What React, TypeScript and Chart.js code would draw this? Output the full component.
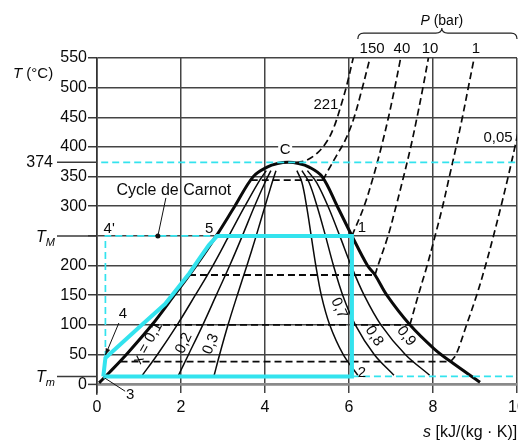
import { useEffect, useRef } from "react";
import { Chart, registerables } from "chart.js";

Chart.register(...registerables);

const FF = "'Liberation Sans', Arial, Helvetica, sans-serif";

// ---------- axes ----------
const sTicks = [0, 2, 4, 6, 8, 10];
const tTicks = [0, 13, 50, 100, 150, 200, 250, 300, 350, 374, 400, 450, 500, 550];
const T_m = 13;
const T_M = 250;
const T_C = 374;

// ---------- saturation dome (s, T) ----------
const domeS = [0.05, 0.3, 0.7, 1.31, 1.84, 2.36, 2.84, 3.28, 3.72, 4.05, 4.3, 4.55, 4.8, 5.05, 5.36, 5.72, 6.07, 6.44, 6.62, 6.9, 7.45, 8.02, 8.42, 9.12];
const domeT = [2, 20, 50, 100, 150, 200, 250, 300, 350, 366, 372, 374, 372, 366, 350, 300, 250, 200, 184, 150, 100, 60, 38, 3];

// ---------- quality lines ----------
const qualT = [15, 50, 100, 150, 200, 250, 300, 340, 360];
const x01S = [1.08, 1.44, 1.91, 2.34, 2.76, 3.14, 3.52, 3.84, 4.03];
const x02S = [1.94, 2.18, 2.52, 2.84, 3.16, 3.46, 3.75, 4.0, 4.14];
const x03S = [2.79, 2.92, 3.12, 3.34, 3.57, 3.79, 4.0, 4.17, 4.26];
const x07S = [6.21, 5.86, 5.54, 5.34, 5.21, 5.1, 4.99, 4.88, 4.76];
const x08S = [7.07, 6.6, 6.15, 5.85, 5.63, 5.44, 5.24, 5.05, 4.88];
const x09S = [7.92, 7.34, 6.76, 6.36, 6.05, 5.78, 5.5, 5.23, 5.01];

// ---------- isobars inside the dome: [T, s liquid, s vapour] ----------
const wetT = [344, 250, 184, 100, 38];
const wetSf = [3.66, 2.84, 2.19, 1.31, 0.56];
const wetSg = [5.38, 6.07, 6.62, 7.45, 8.42];

// ---------- superheated isobars ----------
const p221S = [4.75, 5.0, 5.25, 5.48, 5.65, 5.81, 5.95, 6.1];
const p221T = [373.5, 378, 390, 410, 435, 470, 505, 550];
const p150S = [5.38, 5.5, 5.7, 5.9, 6.1, 6.3, 6.5];
const p150T = [344, 360, 385, 410, 445, 495, 550];
const p40S = [6.07, 6.36, 6.58, 6.77, 6.94, 7.09, 7.23];
const p40T = [250, 300, 350, 400, 450, 500, 550];
const p10S = [6.62, 6.69, 6.93, 7.12, 7.3, 7.47, 7.62, 7.76, 7.89];
const p10T = [184, 200, 250, 300, 350, 400, 450, 500, 550];
const p1S = [7.45, 7.65, 7.86, 8.05, 8.23, 8.39, 8.55, 8.7, 8.84, 8.98];
const p1T = [100, 150, 200, 250, 300, 350, 400, 450, 500, 550];
const p005S = [8.42, 8.55, 8.8, 9.04, 9.25, 9.44, 9.62, 9.79, 9.95, 10.1];
const p005T = [38, 50, 100, 150, 200, 250, 300, 350, 400, 450];

// ---------- Carnot cycle (cyan) ----------
const cycleS = [0.15, 0.2, 1.07, 1.62, 1.9, 2.2, 2.47, 2.66, 2.86, 6.07, 6.07, 0.15];
const cycleT = [13, 44, 100, 135, 160, 187, 215, 234, 250, 250, 13, 13];
const carnotDashS = [0.2, 0.2, 2.86];
const carnotDashT = [44, 250, 250];
const critS = [0.1, 10];
const TmExtS = [6.07, 10];

const CYAN = "#33e3ee";
const BLACK = "#0a0a0a";

const pts = (s: number[], t: number[]) => s.map((v, i) => ({ x: v, y: t[i] }));

function line(data: { x: number; y: number }[], color: string, width: number, dash: number[] = [], tension = 0, order = 3) {
  return {
    data,
    showLine: true,
    pointRadius: 0,
    borderColor: color,
    backgroundColor: color,
    borderWidth: width,
    borderDash: dash,
    tension,
    fill: false,
    order,
  };
}

function f(size: number, italic = false) {
  return `${italic ? "italic " : ""}${size}px ${FF}`;
}

function txt(ctx: CanvasRenderingContext2D, s: string, x: number, y: number, size = 15, align: CanvasTextAlign = "center", angle = 0, italic = false) {
  ctx.save();
  ctx.translate(x, y);
  if (angle) ctx.rotate((angle * Math.PI) / 180);
  ctx.font = f(size, italic);
  ctx.textAlign = align;
  ctx.textBaseline = "middle";
  ctx.fillStyle = BLACK;
  ctx.fillText(s, 0, 0);
  ctx.restore();
}

function rich(ctx: CanvasRenderingContext2D, parts: [string, string, number][], x: number, y: number, align: "left" | "right" | "center") {
  ctx.save();
  ctx.textBaseline = "alphabetic";
  ctx.textAlign = "left";
  ctx.fillStyle = BLACK;
  let w = 0;
  for (const [s, font] of parts) {
    ctx.font = font;
    w += ctx.measureText(s).width;
  }
  let cx = align === "right" ? x - w : align === "center" ? x - w / 2 : x;
  for (const [s, font, dy] of parts) {
    ctx.font = font;
    ctx.fillText(s, cx, y + dy);
    cx += ctx.measureText(s).width;
  }
  ctx.restore();
}

const annotations = {
  id: "annotations",
  afterDatasetsDraw(chart: any) {
    const { ctx, chartArea } = chart;
    const xs = chart.scales.x;
    const ys = chart.scales.y;
    const X = (s: number) => xs.getPixelForValue(s);
    const Y = (t: number) => ys.getPixelForValue(t);
    ctx.save();

    // long ticks for 374, T_M, T_m
    ctx.strokeStyle = "#3a3a3a";
    ctx.lineWidth = 1.5;
    for (const t of [T_C, T_M, T_m]) {
      ctx.beginPath();
      ctx.moveTo(chartArea.left - 40, Y(t));
      ctx.lineTo(chartArea.left, Y(t));
      ctx.stroke();
    }
    txt(ctx, "374", chartArea.left - 44, Y(T_C), 16, "right");
    rich(ctx, [["T", f(16, true), 0], ["M", f(11, true), 4]], chartArea.left - 42, Y(T_M) + 6, "right");
    rich(ctx, [["T", f(16, true), 0], ["m", f(11, true), 4]], chartArea.left - 42, Y(T_m) + 6, "right");

    // axis titles
    rich(ctx, [["T", f(15, true), 0], [" (°C)", f(15), 0]], 13, 78, "left");
    rich(ctx, [["s", f(16, true), 0], [" [kJ/(kg · K)]", f(16), 0]], 423, 437, "left");

    // P (bar) header and brace
    rich(ctx, [["P", f(14, true), 0], [" (bar)", f(14), 0]], X(8.21), Y(615) + 6, "center");
    const bx0 = X(6.21), bx1 = X(10), bm = X(8.21), by = Y(592);
    ctx.strokeStyle = "#222";
    ctx.lineWidth = 1.2;
    ctx.beginPath();
    ctx.moveTo(bx0, by + 6);
    ctx.quadraticCurveTo(bx0, by, bx0 + 6, by);
    ctx.lineTo(bm - 6, by);
    ctx.quadraticCurveTo(bm, by, bm, by - 5);
    ctx.quadraticCurveTo(bm, by, bm + 6, by);
    ctx.lineTo(bx1 - 6, by);
    ctx.quadraticCurveTo(bx1, by, bx1, by + 6);
    ctx.stroke();
    txt(ctx, "150", X(6.55), Y(565), 15);
    txt(ctx, "40", X(7.26), Y(565), 15);
    txt(ctx, "10", X(7.93), Y(565), 15);
    txt(ctx, "1", X(9.02), Y(565), 15);
    txt(ctx, "221", X(5.45), Y(471), 15);
    txt(ctx, "0,05", X(9.55), Y(415), 15);

    // critical point label with gap in the grid line
    ctx.fillStyle = "#fff";
    ctx.fillRect(X(4.48) - 7, Y(395) - 8, 14, 16);
    txt(ctx, "C", X(4.48), Y(395), 15);

    // cycle point labels
    txt(ctx, "1", X(6.31), Y(263), 15);
    txt(ctx, "2", X(6.31), Y(18.6), 15);
    txt(ctx, "3", X(0.79), Y(-18.6), 15);
    txt(ctx, "4", X(0.62), Y(118), 15);
    txt(ctx, "4'", X(0.29), Y(261.5), 15);
    txt(ctx, "5", X(2.67), Y(261.5), 15);

    // Cycle de Carnot label + leader + dot
    txt(ctx, "Cycle de Carnot", X(1.83), Y(327), 16);
    ctx.strokeStyle = "#111";
    ctx.lineWidth = 1;
    ctx.beginPath();
    ctx.moveTo(X(1.64), Y(314));
    ctx.lineTo(X(1.45), Y(250));
    ctx.stroke();
    ctx.fillStyle = "#111";
    ctx.beginPath();
    ctx.arc(X(1.45), Y(250), 2.5, 0, Math.PI * 2);
    ctx.fill();

    // arrow to point 4
    const ax0 = X(0.52), ay0 = Y(103), ax1 = X(0.2), ay1 = Y(49);
    ctx.beginPath();
    ctx.moveTo(ax0, ay0);
    ctx.lineTo(ax1, ay1);
    ctx.stroke();
    const ang = Math.atan2(ay1 - ay0, ax1 - ax0);
    ctx.beginPath();
    ctx.moveTo(ax1, ay1);
    ctx.lineTo(ax1 - 7 * Math.cos(ang - 0.35), ay1 - 7 * Math.sin(ang - 0.35));
    ctx.lineTo(ax1 - 7 * Math.cos(ang + 0.35), ay1 - 7 * Math.sin(ang + 0.35));
    ctx.closePath();
    ctx.fill();

    // leader to point 3
    ctx.beginPath();
    ctx.moveTo(X(0.19), Y(10));
    ctx.lineTo(X(0.67), Y(-12));
    ctx.stroke();

    // quality labels
    txt(ctx, "x = 0,1", X(1.21), Y(69), 15, "center", -61);
    txt(ctx, "0,2", X(2.07), Y(69), 15, "center", -65);
    txt(ctx, "0,3", X(2.71), Y(67.5), 15, "center", -68);
    txt(ctx, "0,7", X(5.76), Y(128), 15, "center", 66);
    txt(ctx, "0,8", X(6.6), Y(81), 15, "center", 57);
    txt(ctx, "0,9", X(7.36), Y(81), 15, "center", 52);

    ctx.restore();
  },
};

export default function App() {
  const ref = useRef<HTMLCanvasElement>(null);

  useEffect(() => {
    Chart.defaults.font.family = FF;
    const datasets: any[] = [];
    // cyan cycle (top)
    datasets.push(line(pts(cycleS, cycleT), CYAN, 4, [], 0, 0));
    datasets.push(line(pts(carnotDashS, carnotDashT), CYAN, 1.7, [7, 4], 0, 1));
    datasets.push(line(pts(critS, [T_C, T_C]), CYAN, 1.7, [7, 4], 0, 1));
    datasets.push(line(pts(TmExtS, [T_m, T_m]), CYAN, 1.7, [7, 4], 0, 1));
    // dome
    datasets.push(line(pts(domeS, domeT), BLACK, 3, [], 0.35, 2));
    // quality lines
    for (const s of [x01S, x02S, x03S, x07S, x08S, x09S]) {
      datasets.push(line(pts(s, qualT), BLACK, 1.5, [], 0.35, 3));
    }
    // wet isobars
    wetT.forEach((t, i) => {
      datasets.push(line(pts([wetSf[i], wetSg[i]], [t, t]), BLACK, 1.8, [7, 4], 0, 4));
    });
    // superheated isobars
    const sup: [number[], number[]][] = [
      [p221S, p221T],
      [p150S, p150T],
      [p40S, p40T],
      [p10S, p10T],
      [p1S, p1T],
      [p005S, p005T],
    ];
    for (const [s, t] of sup) datasets.push(line(pts(s, t), BLACK, 1.7, [7, 4], 0.35, 4));

    const chart = new Chart(ref.current as HTMLCanvasElement, {
      type: "scatter",
      data: { datasets },
      options: {
        responsive: false,
        animation: false,
        events: [],
        layout: { padding: { top: 58, right: 23, left: 0, bottom: 0 } },
        plugins: { legend: { display: false }, tooltip: { enabled: false } },
        scales: {
          x: {
            type: "linear",
            min: 0,
            max: 10,
            afterBuildTicks: (sc: any) => {
              sc.ticks = sTicks.map((v) => ({ value: v }));
            },
            afterFit: (sc: any) => {
              sc.height = 48;
            },
            grid: { color: "#444", lineWidth: 1.5, drawTicks: false },
            border: { display: false },
            ticks: { font: { size: 16, family: FF }, color: "#0a0a0a", padding: 5, autoSkip: false, maxRotation: 0 },
          },
          y: {
            type: "linear",
            min: -15,
            max: 550,
            afterBuildTicks: (sc: any) => {
              sc.ticks = tTicks.map((v) => ({ value: v }));
            },
            afterFit: (sc: any) => {
              sc.width = 97;
            },
            grid: {
              color: (c: any) => {
                const v = c.tick && c.tick.value;
                if (v === T_m || v === T_C) return "rgba(0,0,0,0)";
                if (v === 0) return "#8a8a8a";
                return "#444";
              },
              lineWidth: (c: any) => (c.tick && c.tick.value === 0 ? 2.8 : 1.5),
              tickColor: (c: any) => {
                const v = c.tick && c.tick.value;
                if (v === T_m || v === T_C) return "rgba(0,0,0,0)";
                return "#3a3a3a";
              },
              tickLength: 9,
              tickWidth: 1.5,
            } as any,
            border: { display: true, color: "#333", width: 1.6 },
            ticks: {
              autoSkip: false,
              font: { size: 16, family: FF },
              color: "#0a0a0a",
              padding: 1,
              callback: (v: any) => (v === T_m || v === T_M || v === T_C ? "" : String(v)),
            },
          },
        },
      },
      plugins: [annotations],
    } as any);
    return () => chart.destroy();
  }, []);

  return (
    <div style={{ position: "fixed", left: 0, top: 0, width: 518, height: 441, overflow: "hidden", background: "#fff" }}>
      <canvas ref={ref} width={540} height={441} style={{ display: "block", width: 540, height: 441 }} />
    </div>
  );
}
